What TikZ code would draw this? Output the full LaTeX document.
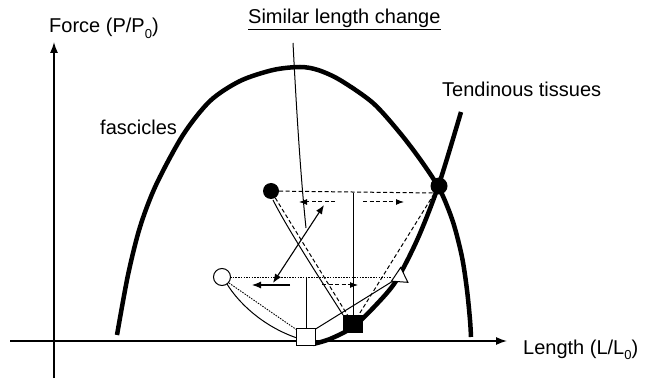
\documentclass[tikz,border=0pt]{standalone}
\usepackage{fontspec}
\setmainfont{Liberation Sans}
\usetikzlibrary{arrows.meta,shapes.geometric}
\newcommand{\sbz}{\raisebox{-0.28em}{\fontsize{13}{13}\selectfont 0}}
\begin{document}
\begin{tikzpicture}[x=1pt,y=-1pt,
  lbl/.style={font=\fontsize{20}{24}\selectfont, inner sep=0pt, anchor=base west},
  thickcurve/.style={line width=4.5pt},
  thinline/.style={line width=1pt},
  ax/.style={line width=1.4pt,-{Latex[length=11pt,width=8pt]}},
  dsh/.style={line width=1pt, dash pattern=on 4pt off 2.5pt},
  dotl/.style={line width=0.9pt, dash pattern=on 1.5pt off 1.2pt},
  arr/.style={line width=1.1pt,-{Latex[length=9pt,width=7pt]}},
  dsharr/.style={line width=1pt, dash pattern=on 4pt off 2.5pt,-{Latex[length=8pt,width=6pt]}},
  dblarr/.style={line width=1.1pt,{Latex[length=9pt,width=7pt]}-{Latex[length=9pt,width=7pt]}},
]
\useasboundingbox (0,0) rectangle (648,379);

% axes
\coordinate (yb) at (54,378);
\coordinate (yt) at (54,42);
\coordinate (xl) at (10,341);
\coordinate (xr) at (507,341);
\draw[ax] (yb) -- (yt);
\draw[ax] (xl) -- (xr);

% labels
\node[lbl] (force) at (49,33) {Force (P/P\sbz)};
\node[lbl] (title) at (248,24) {\underline{Similar length change}};
\node[lbl] (tend) at (442,97) {Tendinous tissues};
\node[lbl] (fasc) at (100,135) {fascicles};
\node[lbl] (len) at (523,354) {Length (L/L\sbz)};

% fascicle curve
\draw[thickcurve] plot[smooth, tension=0.5] coordinates {(117,335) (128,275) (140,227) (156,185) (183,135) (210,101) (240,81) (273,70) (300,67) (318,70) (340,80) (373,103) (400,133) (422,162) (440,190) (453,222) (462,257) (467,290) (470,320) (471,337)};

% tendon curve
\draw[thickcurve] plot[smooth, tension=0.5] coordinates {(313,344) (330,339) (353,327) (375,306) (396,281) (418,238) (439,184) (461,112)};

% thin line from top
\coordinate (tlt) at (293,43);
\coordinate (tlb) at (306,228);
\draw[thinline] (tlt) .. controls (297,120) and (301,180) .. (tlb);

% markers (positions)
\node[circle, fill=black, minimum size=16pt, inner sep=0pt] (fc) at (271,191) {};
\node[circle, fill=black, minimum size=17pt, inner sep=0pt] (X) at (439,186) {};
\coordinate (dT) at (433,193);
\coordinate (vT) at (353,193);
\coordinate (vB) at (306,277);

% connectors behind markers
\draw[dsh] (fc) -- (dT);
\draw[dsh] (fc) -- (353,324);
\draw[thinline] (273,200) .. controls (287,228) and (322,282) .. (343,315);
\draw[dsh] (353,324) -- (X);
\draw[thinline] (vT) -- (353,316);

\draw[dotl] (230,277) -- (392,277);
\draw[dotl] (229,283) -- (297,330);
\draw[thinline] (227,284) .. controls (238,302) and (262,326) .. (297,338);
\draw[thinline] (vB) -- (306,329);
\draw[thinline] (314,330) -- (393,281);

% arrows
\coordinate (a1s) at (335,202); \coordinate (a1e) at (299,202);
\coordinate (a2s) at (363,202); \coordinate (a2e) at (404,202);
\coordinate (d1) at (324,205); \coordinate (d2) at (273,283);
\coordinate (a3s) at (290,285); \coordinate (a3e) at (252,285);
\coordinate (a4s) at (322,285); \coordinate (a4e) at (358,285);
\draw[dsharr] (a1s) -- (a1e);
\draw[dsharr] (a2s) -- (a2e);
\draw[dblarr] (d1) -- (d2);
\draw[arr] (a3s) -- (a3e);
\draw[dsharr] (a4s) -- (a4e);

% markers on top
\node[circle, draw, fill=white, line width=1pt, minimum size=17pt, inner sep=0pt] (oc) at (222,277) {};
\node[rectangle, fill=black, minimum width=20pt, minimum height=18pt, inner sep=0pt] (fs) at (353,324) {};
\node[rectangle, draw, fill=white, line width=1pt, minimum width=19pt, minimum height=17pt, inner sep=0pt] (os) at (306,337) {};
\node[regular polygon, regular polygon sides=3, draw, fill=white, line width=1pt, minimum size=19pt, inner sep=0pt, rotate=-4] (tri) at (400,277) {};
\end{tikzpicture}
\end{document}
